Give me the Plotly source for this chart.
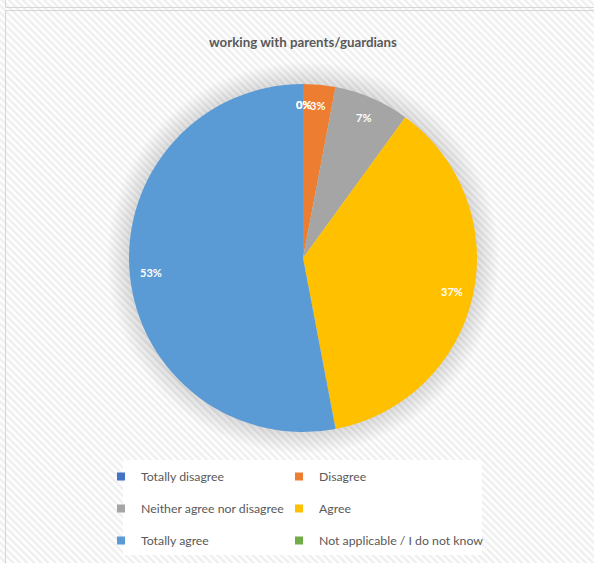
import base64
import numpy as np
import plotly.graph_objects as go

# ---------------- data ----------------
categories = [
    "Totally disagree",
    "Disagree",
    "Neither agree nor disagree",
    "Agree",
    "Totally agree",
    "Not applicable / I do not know",
]
percent_values = [0, 3, 7, 37, 53, 0]
slice_colors = ["#4472C4", "#ED7D31", "#A5A5A5", "#FFC000", "#5B9BD5", "#70AD47"]
chart_title = "working with parents/guardians"

# ---------------- geometry (pixels) ----------------
W, H = 594, 563
CX, CY, R = 303, 258, 174


def fx(x):
    return x / W


def fy(y):
    return 1 - y / H


dom_x = [fx(CX - R), fx(CX + R)]
dom_y = [fy(CY + R), fy(CY - R)]

# ---------------- background texture ----------------
svg = f"""<svg xmlns='http://www.w3.org/2000/svg' width='{W}' height='{H}'>
<defs><pattern id='p' patternUnits='userSpaceOnUse' width='5' height='5' patternTransform='rotate(-45)'>
<rect width='5' height='5' fill='#ffffff'/><rect width='2.5' height='5' fill='#efefef'/></pattern></defs>
<rect width='{W}' height='{H}' fill='url(#p)'/></svg>"""
bg_src = "data:image/svg+xml;base64," + base64.b64encode(svg.encode()).decode()

fig = go.Figure()

fig.add_trace(go.Pie(
    labels=categories,
    values=percent_values,
    marker=dict(colors=slice_colors, line=dict(width=0)),
    sort=False,
    direction="clockwise",
    rotation=0,
    textinfo="none",
    domain=dict(x=dom_x, y=dom_y),
    hoverinfo="label+percent",
    showlegend=False,
))

# legend entries (two columns, like the original)
for i, (cat, col) in enumerate(zip(categories, slice_colors)):
    fig.add_trace(go.Scatter(
        x=[None], y=[None], mode="markers",
        marker=dict(symbol="square", size=8, color=col),
        name=cat, legendgroup=cat,
        legend="legend" if i % 2 == 0 else "legend2",
        hoverinfo="skip",
    ))

# data labels placed along each slice's mid angle
vals = np.array(percent_values, dtype=float)
cum = np.cumsum(vals)
mid_theta = np.deg2rad((cum - vals / 2) / vals.sum() * 360)
label_r = 0.88 * R
annotations = []
for v, th in zip(vals, mid_theta):
    annotations.append(dict(
        x=fx(CX + label_r * np.sin(th)), y=fy(CY - label_r * np.cos(th)),
        xref="paper", yref="paper", text=f"{v:.0f}%", showarrow=False,
        font=dict(family="Lato", size=11, color="white", weight="bold"),
        xanchor="center", yanchor="middle",
    ))

shapes = []
# soft glow around pie
for i in range(16):
    rr = R + 1 + i * 1.4
    shapes.append(dict(type="circle", xref="paper", yref="paper",
                       x0=fx(CX - rr), x1=fx(CX + rr), y0=fy(CY + rr), y1=fy(CY - rr),
                       fillcolor="rgba(0,0,0,0.009)", line=dict(width=0), layer="below"))
# frame lines
frame = "#d6d6d6"
shapes.append(dict(type="rect", xref="paper", yref="paper",
                   x0=fx(5.5), x1=fx(W + 10), y0=fy(10.5), y1=fy(H + 10),
                   line=dict(color=frame, width=1), fillcolor="rgba(0,0,0,0)", layer="below"))
shapes.append(dict(type="line", xref="paper", yref="paper",
                   x0=fx(5.5), x1=fx(W + 10), y0=fy(7.5), y1=fy(7.5),
                   line=dict(color=frame, width=1), layer="below"))
shapes.append(dict(type="line", xref="paper", yref="paper",
                   x0=fx(5.5), x1=fx(5.5), y0=fy(-5), y1=fy(7.5),
                   line=dict(color=frame, width=1), layer="below"))
# legend box
shapes.append(dict(type="rect", xref="paper", yref="paper",
                   x0=fx(123), x1=fx(482), y0=fy(555), y1=fy(460),
                   fillcolor="white", line=dict(width=0), layer="below"))

legend_common = dict(
    orientation="v", xanchor="left", yanchor="top", tracegroupgap=13,
    bgcolor="rgba(0,0,0,0)", font=dict(family="Lato", size=12.3, color="#595959"),
    traceorder="grouped",
)

fig.update_layout(
    width=W, height=H,
    margin=dict(l=0, r=0, t=0, b=0),
    paper_bgcolor="#ffffff",
    plot_bgcolor="rgba(0,0,0,0)",
    xaxis=dict(visible=False),
    yaxis=dict(visible=False),
    images=[dict(source=bg_src, xref="paper", yref="paper", x=0, y=1,
                 sizex=1, sizey=1, xanchor="left", yanchor="top",
                 sizing="stretch", layer="below")],
    shapes=shapes,
    annotations=annotations,
    title=dict(text=chart_title, x=fx(CX), xref="paper", xanchor="center",
               y=fy(42), yanchor="middle",
               font=dict(family="Lato", size=13.3, color="#595959", weight="bold")),
    showlegend=True,
    legend=dict(x=fx(101), y=fy(462), **legend_common),
    legend2=dict(x=fx(279), y=fy(462), **legend_common),
)

fig.write_html("out.html", config={"displayModeBar": False},
               post_script="document.body.style.margin='0px';")
